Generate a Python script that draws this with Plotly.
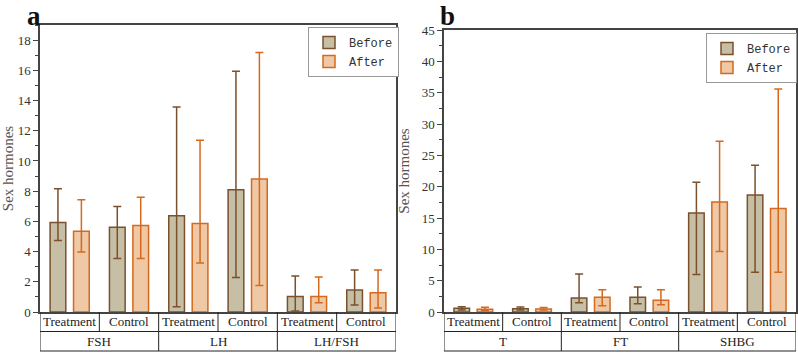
import plotly.graph_objects as go

# ---------------- data ----------------
groups_a = ["FSH", "LH", "LH/FSH"]
groups_b = ["T", "FT", "SHBG"]
subgroups = ["Treatment", "Control"]

before_a = [5.92, 5.61, 6.37, 8.09, 1.02, 1.46]
before_a_hi = [8.16, 6.98, 13.57, 15.94, 2.39, 2.78]
before_a_lo = [4.73, 3.54, 0.35, 2.28, 0.07, 0.46]
after_a = [5.35, 5.73, 5.86, 8.80, 1.02, 1.28]
after_a_hi = [7.43, 7.60, 11.37, 17.18, 2.32, 2.78]
after_a_lo = [3.98, 3.54, 3.25, 1.75, 0.62, 0.27]

before_b = [0.59, 0.53, 2.24, 2.35, 15.79, 18.67]
before_b_hi = [0.85, 0.80, 6.08, 4.00, 20.69, 23.42]
before_b_lo = [0.30, 0.30, 1.49, 1.33, 5.97, 6.35]
after_b = [0.43, 0.48, 2.35, 1.87, 17.55, 16.53]
after_b_hi = [0.75, 0.70, 3.57, 3.57, 27.26, 35.58]
after_b_lo = [0.20, 0.30, 1.01, 1.17, 9.65, 6.35]

series_names = ["Before", "After"]
y_title = "Sex hormones"

# ---------------- style ----------------
W, H = 798, 354
BEFORE_FILL, BEFORE_LINE = "#C6BFA6", "#7A512C"
AFTER_FILL, AFTER_LINE = "#EFC8A6", "#D4691F"
AXIS_COLOR = "#444444"
SERIF = "Liberation Serif, Times New Roman, serif"
MONO = "Liberation Mono, Courier New, monospace"

def px_x(p):
    return p / W

def px_y(p):
    return (H - p) / H

cats_a = [f"{g}|{s}" for g in groups_a for s in subgroups]
cats_b = [f"{g}|{s}" for g in groups_b for s in subgroups]

fig = go.Figure()

def add_bars(cats, vals, hi, lo, name, fill, line, xa, ya, legend):
    fig.add_trace(go.Bar(
        x=cats, y=vals, name=name, xaxis=xa, yaxis=ya, legend=legend,
        marker=dict(color=fill, line=dict(color=line, width=1.5)),
        error_y=dict(type="data", symmetric=False,
                     array=[h - v for h, v in zip(hi, vals)],
                     arrayminus=[v - l for v, l in zip(vals, lo)],
                     color=line, thickness=1.5, width=4),
    ))

add_bars(cats_a, before_a, before_a_hi, before_a_lo, series_names[0], BEFORE_FILL, BEFORE_LINE, "x", "y", "legend")
add_bars(cats_a, after_a, after_a_hi, after_a_lo, series_names[1], AFTER_FILL, AFTER_LINE, "x", "y", "legend")
add_bars(cats_b, before_b, before_b_hi, before_b_lo, series_names[0], BEFORE_FILL, BEFORE_LINE, "x2", "y2", "legend2")
add_bars(cats_b, after_b, after_b_hi, after_b_lo, series_names[1], AFTER_FILL, AFTER_LINE, "x2", "y2", "legend2")

x_common = dict(type="category", showticklabels=False, ticks="", showline=True, mirror=True,
                linecolor=AXIS_COLOR, linewidth=1.5, showgrid=False, zeroline=False,
                range=[-0.5, 5.5], automargin=False)
y_common = dict(showline=True, mirror=True, linecolor=AXIS_COLOR, linewidth=1.5,
                showgrid=False, zeroline=False, ticks="outside", ticklen=5, tickwidth=1,
                tickcolor=AXIS_COLOR, automargin=False,
                tickfont=dict(family=SERIF, size=13, color="#333"),
                title=dict(text=y_title, font=dict(family=SERIF, size=15, color="#555"), standoff=8))

legend_common = dict(xanchor="right", yanchor="top", bordercolor="#999", borderwidth=1,
                     bgcolor="white", font=dict(family=MONO, size=12, color="#333"),
                     tracegroupgap=0)

fig.update_layout(
    width=W, height=H, margin=dict(l=0, r=0, t=0, b=0, autoexpand=False),
    paper_bgcolor="white", plot_bgcolor="white",
    barmode="group", bargap=0.21, bargroupgap=0.33,
    showlegend=True,
    xaxis=dict(domain=[px_x(40), px_x(396)], anchor="y", **x_common),
    yaxis=dict(domain=[px_y(312), px_y(25)], anchor="x", range=[0, 19], dtick=2,
               minor=dict(ticks="outside", ticklen=3, dtick=1, tickcolor=AXIS_COLOR), **y_common),
    xaxis2=dict(domain=[px_x(444), px_x(796)], anchor="y2", **x_common),
    yaxis2=dict(domain=[px_y(312), px_y(30)], anchor="x2", range=[0, 45], dtick=5,
                minor=dict(ticks="outside", ticklen=3, dtick=2.5, tickcolor=AXIS_COLOR), **y_common),
    legend=dict(x=px_x(399), y=px_y(27), **legend_common),
    legend2=dict(x=px_x(797), y=px_y(33), **legend_common),
)

# ------------- category table under each axis -------------
row_top, row_mid, row_bot = px_y(312), px_y(331.5), px_y(351)
shapes, annotations = [], []
for xref, groups in (("x", groups_a), ("x2", groups_b)):
    n = len(groups) * len(subgroups)
    line = dict(color="#222", width=1)
    for i in range(n + 1):
        shapes.append(dict(type="line", xref=xref, yref="paper", x0=i - 0.5, x1=i - 0.5,
                           y0=row_top, y1=row_mid, line=line))
    for g in range(len(groups) + 1):
        xg = g * len(subgroups) - 0.5
        shapes.append(dict(type="line", xref=xref, yref="paper", x0=xg, x1=xg,
                           y0=row_mid, y1=row_bot, line=line))
    for yy in (row_mid, row_bot):
        shapes.append(dict(type="line", xref=xref, yref="paper", x0=-0.5, x1=n - 0.5,
                           y0=yy, y1=yy, line=line))
    for gi, g in enumerate(groups):
        for si, s in enumerate(subgroups):
            annotations.append(dict(xref=xref, yref="paper", x=gi * len(subgroups) + si,
                                    y=(row_top + row_mid) / 2, text=s, showarrow=False,
                                    yanchor="middle", font=dict(family=SERIF, size=13, color="#222")))
        annotations.append(dict(xref=xref, yref="paper", x=gi * len(subgroups) + (len(subgroups) - 1) / 2,
                                y=(row_mid + row_bot) / 2, text=g, showarrow=False,
                                yanchor="middle", font=dict(family=SERIF, size=13, color="#222")))

annotations.append(dict(xref="paper", yref="paper", x=px_x(26), y=1, text="<b>a</b>",
                        showarrow=False, yanchor="top", borderpad=0,
                        font=dict(family=SERIF, size=27, color="#111")))
annotations.append(dict(xref="paper", yref="paper", x=px_x(447), y=1, text="<b>b</b>",
                        showarrow=False, yanchor="top", borderpad=0,
                        font=dict(family=SERIF, size=27, color="#111")))

fig.update_layout(shapes=shapes, annotations=annotations)
fig.write_html("out.html", config={"displayModeBar": False},
               post_script="document.body.style.margin='0';document.body.style.overflow='hidden';")
